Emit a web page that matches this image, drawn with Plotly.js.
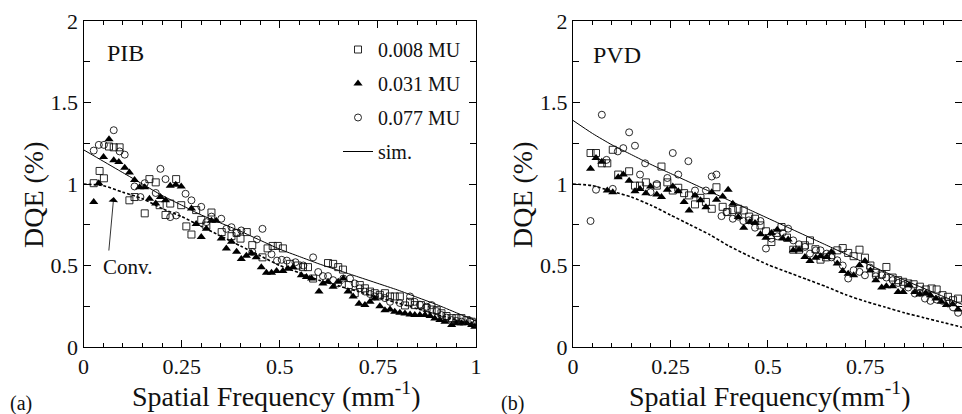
<!DOCTYPE html>
<html>
<head>
<meta charset="utf-8">
<script src="https://cdn.plot.ly/plotly-3.0.1.min.js"></script>
<style>html,body{margin:0;padding:0;background:#fff;}#chart{width:962px;height:414px;}</style>
</head>
<body>
<div id="chart"></div>
<script>
// ---------- (a) PIB ----------
const pibF008 = [0.026,0.041,0.052,0.065,0.077,0.092,0.117,0.13,0.156,0.168,0.184,0.194,0.209,0.221,0.236,0.249,0.262,0.275,0.287,0.30,0.313,0.326,0.352,0.377,0.39,0.40,0.416,0.43,0.456,0.469,0.482,0.495,0.508,0.526,0.546,0.559,0.572,0.585,0.623,0.636,0.649,0.661,0.676,0.691,0.704,0.717,0.73,0.742,0.755,0.768,0.781,0.793,0.806,0.819,0.832,0.844,0.86,0.874,0.887,0.90,0.912,0.925,0.938,0.95,0.963,0.976,0.989];
const pibV008 = [1.005,1.08,1.035,1.23,1.225,1.225,0.90,0.92,0.82,1.03,1.01,0.87,0.81,0.88,1.03,0.87,0.74,0.69,0.84,0.78,0.745,0.825,0.705,0.68,0.70,0.665,0.705,0.625,0.55,0.605,0.62,0.62,0.605,0.51,0.50,0.49,0.49,0.42,0.515,0.51,0.49,0.475,0.38,0.33,0.38,0.36,0.34,0.33,0.32,0.33,0.31,0.31,0.31,0.255,0.277,0.257,0.257,0.24,0.23,0.226,0.207,0.19,0.177,0.177,0.177,0.165,0.155];

const pibF031 = [0.026,0.039,0.051,0.065,0.077,0.09,0.105,0.117,0.13,0.143,0.156,0.168,0.184,0.196,0.209,0.221,0.235,0.249,0.275,0.287,0.30,0.313,0.326,0.338,0.351,0.364,0.377,0.39,0.402,0.415,0.428,0.44,0.453,0.466,0.479,0.492,0.508,0.521,0.534,0.555,0.568,0.581,0.60,0.61,0.623,0.636,0.649,0.662,0.674,0.687,0.702,0.717,0.73,0.742,0.755,0.768,0.781,0.793,0.806,0.819,0.832,0.844,0.857,0.87,0.883,0.895,0.908,0.921,0.938,0.95,0.963,0.976,0.989,0.997];
const pibV031 = [0.89,1.005,1.165,1.275,1.145,1.135,1.10,1.07,1.025,0.98,0.98,0.91,0.88,0.92,0.90,0.99,0.995,0.985,0.85,0.755,0.675,0.725,0.775,0.775,0.665,0.605,0.645,0.585,0.54,0.56,0.575,0.55,0.49,0.455,0.455,0.467,0.467,0.48,0.49,0.44,0.43,0.42,0.34,0.39,0.40,0.37,0.40,0.42,0.34,0.31,0.265,0.257,0.277,0.297,0.25,0.226,0.23,0.216,0.21,0.206,0.20,0.196,0.196,0.196,0.19,0.175,0.165,0.155,0.135,0.145,0.145,0.145,0.135,0.124];

const pibF077 = [0.026,0.039,0.052,0.077,0.092,0.105,0.13,0.145,0.156,0.184,0.196,0.209,0.221,0.236,0.26,0.275,0.30,0.313,0.326,0.351,0.364,0.377,0.39,0.402,0.43,0.442,0.456,0.479,0.493,0.505,0.518,0.54,0.56,0.585,0.598,0.61,0.623,0.636,0.649,0.662,0.679,0.691,0.704,0.717,0.73,0.742,0.755,0.768,0.781,0.806,0.832,0.844,0.857,0.874,0.887,0.90,0.912,0.925,0.938,0.95,0.963,0.985,1.0];
const pibV077 = [1.205,1.24,1.24,1.33,1.2,1.18,0.985,0.92,1.005,0.945,1.093,1.03,0.797,0.807,0.94,0.90,0.86,0.766,0.80,0.787,0.725,0.735,0.70,0.715,0.583,0.66,0.725,0.569,0.53,0.535,0.53,0.52,0.50,0.55,0.46,0.435,0.435,0.41,0.39,0.42,0.42,0.39,0.36,0.34,0.325,0.31,0.31,0.30,0.277,0.27,0.31,0.277,0.26,0.247,0.257,0.22,0.196,0.18,0.165,0.16,0.155,0.16,0.145];

const curveF = [0,0.05,0.1,0.15,0.2,0.25,0.3,0.35,0.4,0.45,0.5,0.55,0.6,0.65,0.7,0.75,0.8,0.85,0.9,0.95,1.0];
const pibSim  = [1.21,1.14,1.07,1.00,0.93,0.87,0.81,0.76,0.71,0.655,0.60,0.555,0.51,0.47,0.43,0.39,0.35,0.305,0.26,0.21,0.16];
const pibConv = [1.0,0.99,0.95,0.91,0.85,0.80,0.74,0.68,0.62,0.56,0.50,0.455,0.41,0.375,0.34,0.305,0.27,0.235,0.20,0.165,0.13];

// ---------- (b) PVD ----------
const pvdF008 = [0.045,0.059,0.074,0.088,0.102,0.116,0.144,0.159,0.172,0.187,0.215,0.227,0.242,0.256,0.27,0.285,0.298,0.313,0.327,0.341,0.356,0.368,0.384,0.396,0.41,0.424,0.438,0.452,0.467,0.481,0.495,0.509,0.522,0.535,0.549,0.565,0.58,0.595,0.608,0.622,0.635,0.649,0.663,0.678,0.692,0.706,0.72,0.735,0.749,0.763,0.777,0.792,0.804,0.82,0.834,0.847,0.86,0.874,0.89,0.905,0.92,0.933,0.948,0.962,0.975,0.988];
const pvdV008 = [1.19,1.19,1.127,1.127,1.21,1.058,1.078,0.99,0.99,1.01,0.99,1.107,1.01,0.96,0.977,0.944,0.93,0.875,0.915,0.89,0.848,0.98,0.86,0.828,0.84,0.848,0.838,0.80,0.787,0.746,0.71,0.644,0.70,0.736,0.671,0.597,0.597,0.624,0.654,0.60,0.536,0.55,0.563,0.593,0.607,0.577,0.557,0.597,0.548,0.50,0.455,0.446,0.491,0.426,0.41,0.40,0.39,0.385,0.37,0.353,0.359,0.353,0.318,0.308,0.287,0.297];

const pvdF031 = [0.045,0.059,0.074,0.088,0.102,0.116,0.129,0.144,0.159,0.172,0.187,0.199,0.215,0.227,0.242,0.256,0.27,0.285,0.298,0.313,0.327,0.341,0.356,0.368,0.384,0.398,0.41,0.424,0.438,0.454,0.467,0.481,0.495,0.509,0.524,0.538,0.552,0.565,0.58,0.595,0.608,0.623,0.635,0.651,0.663,0.678,0.692,0.706,0.72,0.735,0.749,0.763,0.777,0.792,0.804,0.82,0.834,0.847,0.862,0.877,0.89,0.905,0.917,0.931,0.945,0.958,0.974,0.988];
const pvdV031 = [1.093,1.16,1.137,0.96,0.95,1.042,1.058,1.02,0.956,0.97,0.944,0.985,0.936,0.92,0.965,0.985,0.956,0.889,0.838,0.93,0.90,0.858,0.95,0.903,0.924,0.965,0.879,0.797,0.732,0.767,0.76,0.691,0.671,0.699,0.72,0.665,0.659,0.593,0.597,0.552,0.528,0.548,0.557,0.552,0.583,0.512,0.467,0.45,0.44,0.502,0.528,0.47,0.41,0.365,0.373,0.373,0.338,0.338,0.38,0.338,0.324,0.332,0.318,0.297,0.277,0.257,0.263,0.23];

const pvdF077 = [0.045,0.059,0.074,0.086,0.102,0.115,0.129,0.144,0.159,0.172,0.185,0.199,0.215,0.242,0.256,0.27,0.296,0.313,0.341,0.356,0.368,0.381,0.394,0.41,0.424,0.437,0.451,0.467,0.481,0.495,0.509,0.524,0.538,0.552,0.565,0.58,0.595,0.608,0.623,0.635,0.651,0.663,0.678,0.692,0.706,0.72,0.735,0.749,0.762,0.777,0.792,0.804,0.82,0.834,0.847,0.86,0.877,0.89,0.903,0.917,0.933,0.948,0.962,0.975,0.988];
const pvdV077 = [0.773,0.965,1.425,1.148,0.97,1.2,1.22,1.317,1.235,1.058,1.127,0.95,1.0,1.037,1.19,1.058,1.14,0.96,0.96,1.046,1.058,0.803,0.828,0.787,0.80,0.773,0.777,0.732,0.773,0.604,0.665,0.679,0.70,0.726,0.654,0.63,0.614,0.573,0.593,0.593,0.573,0.55,0.532,0.50,0.42,0.471,0.461,0.44,0.487,0.434,0.44,0.426,0.41,0.393,0.38,0.365,0.328,0.332,0.297,0.283,0.291,0.283,0.267,0.243,0.21];

const pvdSim  = [1.39,1.31,1.24,1.18,1.12,1.065,1.01,0.955,0.90,0.845,0.79,0.735,0.68,0.625,0.57,0.515,0.46,0.41,0.36,0.31,0.26];
const pvdConv = [1.0,0.99,0.955,0.92,0.87,0.81,0.75,0.69,0.62,0.56,0.505,0.46,0.415,0.37,0.32,0.28,0.245,0.21,0.18,0.15,0.12];

const seriesNames = ['0.008 MU','0.031 MU','0.077 MU','sim.'];
const panelLabels = ['PIB','PVD'];
const xTitles = ['Spatial Frequency (mm<sup>-1</sup>)','Spatial Frequency(mm<sup>-1</sup>)'];
const yTitle = 'DQE (%)';
const partLabels = ['(a)','(b)'];

const FONT = 'Liberation Serif';
const mkSq  = {symbol:'square-open', size:7, color:'#111', line:{width:0.9,color:'#111'}};
const mkTri = {symbol:'triangle-up', size:8, color:'#000', line:{width:0}};
const mkCi  = {symbol:'circle-open', size:7, color:'#111', line:{width:0.9,color:'#111'}};
const simLine  = {color:'#000', width:1};
const convLine = {color:'#000', width:1.6, dash:'3px,2px'};

function pts(x,y,mk,name,xa,ya,show,grp,rank){
  return {type:'scatter',mode:'markers',x:x,y:y,marker:mk,name:name,xaxis:xa,yaxis:ya,
          showlegend:show,legendgroup:grp,legendrank:rank,hoverinfo:'skip'};
}
function crv(x,y,ln,name,xa,ya,show,grp,rank){
  return {type:'scatter',mode:'lines',x:x,y:y,line:Object.assign({shape:'spline',smoothing:0.6},ln),name:name,
          xaxis:xa,yaxis:ya,showlegend:show,legendgroup:grp,legendrank:rank,hoverinfo:'skip'};
}

const data = [
  crv(curveF,pibConv,convLine,'conv','x','y',false,'g5',5),
  crv(curveF,pibSim,simLine,seriesNames[3],'x','y',true,'g4',4),
  pts(pibF008,pibV008,mkSq,seriesNames[0],'x','y',true,'g1',1),
  pts(pibF031,pibV031,mkTri,seriesNames[1],'x','y',true,'g2',2),
  pts(pibF077,pibV077,mkCi,seriesNames[2],'x','y',true,'g3',3),
  crv(curveF,pvdConv,convLine,'conv','x2','y2',false,'g5',5),
  crv(curveF,pvdSim,simLine,seriesNames[3],'x2','y2',false,'g4',4),
  pts(pvdF008,pvdV008,mkSq,seriesNames[0],'x2','y2',false,'g1',1),
  pts(pvdF031,pvdV031,mkTri,seriesNames[1],'x2','y2',false,'g2',2),
  pts(pvdF077,pvdV077,mkCi,seriesNames[2],'x2','y2',false,'g3',3)
];

const W=962,H=414;
const px = v=>v/W, py = v=>(H-v)/H;

function xax(domain,range,anchor){
  return {domain:domain,range:range,anchor:anchor,showgrid:false,zeroline:false,
    showline:true,linecolor:'#000',linewidth:1,mirror:'ticks',
    ticks:'inside',ticklen:7,tickwidth:1,tickcolor:'#000',dtick:0.25,tick0:0,
    tickfont:{family:FONT,size:22,color:'#111'},
    minor:{dtick:0.05,ticks:'inside',ticklen:4,tickwidth:1,tickcolor:'#000',showgrid:false}};
}
function yax(anchor){
  return {domain:[py(347),py(21)],range:[0,2],anchor:anchor,showgrid:false,zeroline:false,
    showline:true,linecolor:'#000',linewidth:1,mirror:'ticks',
    ticks:'inside',ticklen:7,tickwidth:1,tickcolor:'#000',dtick:0.5,tick0:0,
    tickfont:{family:FONT,size:22,color:'#111'},
    minor:{dtick:0.25,ticks:'inside',ticklen:6,tickwidth:1,tickcolor:'#000',showgrid:false}};
}

const ann = [];
const tf = s=>({family:FONT,size:s,color:'#111'});
ann.push({xref:'paper',yref:'paper',x:px(125),y:py(53),text:panelLabels[0],showarrow:false,font:tf(24),xanchor:'center',yanchor:'middle'});
ann.push({xref:'paper',yref:'paper',x:px(617),y:py(55),text:panelLabels[1],showarrow:false,font:tf(24),xanchor:'center',yanchor:'middle'});
ann.push({xref:'paper',yref:'paper',x:px(276),y:py(394),text:xTitles[0],showarrow:false,font:tf(28),xanchor:'center',yanchor:'middle'});
ann.push({xref:'paper',yref:'paper',x:px(769),y:py(394),text:xTitles[1],showarrow:false,font:tf(28),xanchor:'center',yanchor:'middle'});
ann.push({xref:'paper',yref:'paper',x:px(33),y:py(195),text:yTitle,textangle:-90,showarrow:false,font:tf(28),xanchor:'center',yanchor:'middle'});
ann.push({xref:'paper',yref:'paper',x:px(522),y:py(195),text:yTitle,textangle:-90,showarrow:false,font:tf(28),xanchor:'center',yanchor:'middle'});
ann.push({xref:'paper',yref:'paper',x:px(21),y:py(403),text:partLabels[0],showarrow:false,font:tf(20),xanchor:'center',yanchor:'middle'});
ann.push({xref:'paper',yref:'paper',x:px(512),y:py(403),text:partLabels[1],showarrow:false,font:tf(20),xanchor:'center',yanchor:'middle'});
ann.push({xref:'x',yref:'y',x:0.112,y:0.49,text:'Conv.',showarrow:false,font:tf(21),xanchor:'center',yanchor:'middle'});
ann.push({xref:'x',yref:'y',x:0.077,y:0.92,text:'',showarrow:true,arrowhead:1,arrowsize:2,arrowwidth:0.8,arrowcolor:'#000',ax:-5,ay:55,standoff:0});

const layout = {
  width:W,height:H,margin:{l:0,r:0,t:0,b:0},paper_bgcolor:'#fff',plot_bgcolor:'#fff',
  font:{family:FONT,color:'#111'},
  xaxis:xax([px(83.5),px(476)],[0,1],'y'),
  yaxis:yax('x'),
  xaxis2:xax([px(573),1],[0,0.998],'y2'),
  yaxis2:yax('x2'),
  showlegend:true,
  legend:{x:px(338),y:py(30),xanchor:'left',yanchor:'top',bgcolor:'rgba(0,0,0,0)',borderwidth:0,
          font:{family:FONT,size:20,color:'#111'},traceorder:'grouped',tracegroupgap:5,itemwidth:30},
  annotations:ann
};
Plotly.newPlot('chart',data,layout,{staticPlot:true,displayModeBar:false});
</script>
</body>
</html>
